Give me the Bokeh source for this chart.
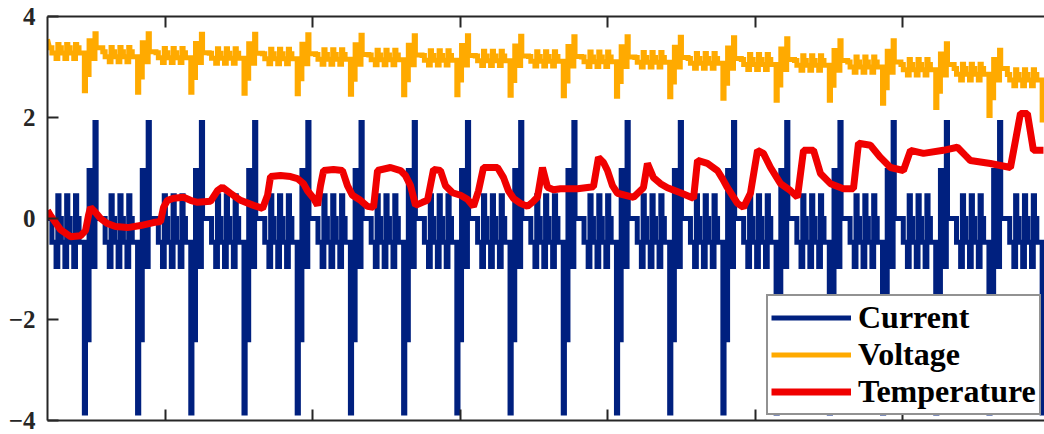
import numpy as np
from bokeh.plotting import figure
from bokeh.models import LinearAxis, FixedTicker, Legend, LegendItem, Range1d
from bokeh.embed import file_html
from bokeh.resources import INLINE

# ---- data ----
# one repeated drive cycle (step durations in s, current level in A)
step_dur = [16, 28, 12, 8, 16, 24, 12, 8, 16, 24, 12, 8, 16, 36, 8, 24, 8, 32, 8, 45]
step_cur = [0, -0.47, -0.95, 0.45, 0, -0.47, -0.95, 0.45, 0, -0.47, -0.95, 0.45,
            0, -0.47, -3.85, -2.4, 0.95, -0.95, 1.9, 0]
first_cycle_start = 214
n_cycles = 19
cur_peak_neg = -3.85
cur_peak_pos = 1.9

# per-cycle voltage: rest level, top of charge spike, bottom of discharge dip
v_rest = [3.38, 3.30, 3.28, 3.27, 3.26, 3.25, 3.24, 3.23, 3.22, 3.21,
          3.20, 3.19, 3.17, 3.15, 3.13, 3.10, 3.05, 2.97, 2.85]
v_top = [3.66, 3.66, 3.65, 3.65, 3.64, 3.63, 3.62, 3.62, 3.61, 3.60,
         3.60, 3.59, 3.58, 3.56, 3.52, 3.52, 3.46, 3.33, 3.25]
v_bottom = [2.53, 2.50, 2.50, 2.48, 2.47, 2.46, 2.45, 2.45, 2.44, 2.43,
            2.42, 2.41, 2.38, 2.34, 2.34, 2.28, 2.20, 2.04, 1.95]
v_initial = 3.55

# temperature trace
temp_t = [200, 220, 254, 288, 356, 424, 458, 478, 492, 526, 560, 607, 661, 743, 831, 919, 967,
          987, 1014, 1055, 1123, 1170, 1218, 1306, 1353, 1387, 1441, 1509, 1598, 1659, 1693,
          1713, 1781, 1849, 1896, 1937, 1964, 2005, 2032, 2052, 2073, 2140, 2201, 2235, 2269,
          2323, 2371, 2412, 2439, 2527, 2595, 2629, 2663, 2697, 2744, 2778, 2819, 2866, 2900,
          2948, 3002, 3049, 3090, 3124, 3158, 3253, 3294, 3327, 3361, 3409, 3456, 3497, 3524,
          3558, 3592, 3633, 3680, 3796, 3904, 3938, 3972, 3999, 4033, 4067, 4176, 4243, 4270,
          4311, 4359, 4406, 4494, 4583, 4610, 4677, 4745, 4779, 4813, 4881, 4922, 4969, 5017,
          5057, 5105, 5173, 5241, 5288, 5329, 5397, 5444, 5512, 5600, 5668, 5702, 5783, 5851,
          5919, 6007, 6055, 6143, 6278, 6373, 6427, 6461, 6597, 6733, 6767, 6801, 6848, 6889,
          6957]
temp_v = [0.16, 0.06, -0.08, -0.22, -0.36, -0.34, -0.24, 0.06, 0.22, 0.12, 0.0, -0.10, -0.16,
          -0.18, -0.14, -0.08, -0.06, 0.22, 0.36, 0.40, 0.42, 0.36, 0.32, 0.34, 0.55, 0.62, 0.50,
          0.36, 0.26, 0.20, 0.46, 0.83, 0.85, 0.83, 0.79, 0.69, 0.55, 0.40, 0.26, 0.65, 0.95,
          0.97, 0.95, 0.65, 0.46, 0.36, 0.24, 0.22, 0.95, 1.01, 0.95, 0.85, 0.65, 0.26, 0.32,
          0.36, 0.97, 0.95, 0.65, 0.51, 0.46, 0.38, 0.24, 0.55, 1.01, 1.01, 0.81, 0.55, 0.40,
          0.30, 0.24, 0.34, 0.42, 1.01, 0.62, 0.57, 0.59, 0.59, 0.63, 1.21, 1.11, 0.95, 0.65,
          0.50, 0.42, 0.61, 1.09, 0.81, 0.69, 0.61, 0.51, 0.40, 1.15, 1.09, 0.95, 0.79, 0.61,
          0.30, 0.22, 0.50, 1.35, 1.29, 1.01, 0.69, 0.55, 0.42, 1.35, 1.35, 0.89, 0.69, 0.59,
          0.59, 1.49, 1.45, 1.21, 1.01, 0.95, 1.35, 1.29, 1.35, 1.41, 1.25, 1.15, 1.09, 1.01,
          1.54, 2.08, 2.08, 1.35, 1.35]

y_ticks = [-4, -2, 0, 2, 4]
y_tick_labels = ["\u22124", "\u22122", "0", "2", "4"]
x_ticks = [1000, 2000, 3000, 4000, 5000, 6000]
labels = ["Current", "Voltage", "Temperature"]
colors = ["#00207F", "#FFAA00", "#F00000"]

# ---- build step series ----
cur_t, cur_y, vol_t, vol_y = [200], [0.0], [200], [v_initial]
t = first_cycle_start
for k in range(n_cycles):
    for d, c in zip(step_dur, step_cur):
        if c < 0:
            v = v_rest[k] + (v_rest[k] - v_bottom[k]) * c / (-cur_peak_neg)
        elif c > 0:
            v = v_rest[k] + (v_top[k] - v_rest[k]) * c / cur_peak_pos
        else:
            v = v_rest[k]
        cur_t += [t, t + d]
        cur_y += [c, c]
        vol_t += [t, t + d]
        vol_y += [v, v]
        t += d

FONT = "Liberation Serif"
AX = "#262626"

p = figure(width=1044, height=434, x_range=Range1d(200, 6964), y_range=Range1d(-4, 4),
           output_backend="svg", toolbar_location=None,
           min_border_left=47, min_border_right=0, min_border_top=16, min_border_bottom=14)
p.outline_line_color = None
p.grid.visible = False
p.background_fill_color = "white"

r1 = p.line(cur_t, cur_y, line_width=5, color=colors[0], line_join="miter")
r2 = p.line(vol_t, vol_y, line_width=5, color=colors[1], line_join="miter")
r3 = p.line(temp_t, temp_v, line_width=7, color=colors[2])

ya = p.yaxis[0]
ya.ticker = FixedTicker(ticks=y_ticks)
ya.major_label_overrides = {tk: lab for tk, lab in zip(y_ticks, y_tick_labels)}
ya.major_tick_in = 11
ya.major_tick_out = 0
ya.minor_tick_line_color = None
ya.axis_line_width = 2
ya.axis_line_color = AX
ya.major_tick_line_color = AX
ya.major_tick_line_width = 2
ya.major_label_text_font = FONT
ya.major_label_text_font_style = "bold"
ya.major_label_text_font_size = "25px"
ya.major_label_text_color = AX
ya.major_label_standoff = 12

xa = p.xaxis[0]
top = LinearAxis()
p.add_layout(top, "above")
for a in (xa, top):
    a.ticker = FixedTicker(ticks=x_ticks)
    a.major_tick_in = 11
    a.major_tick_out = 0
    a.minor_tick_line_color = None
    a.axis_line_width = 2
    a.axis_line_color = AX
    a.major_tick_line_color = AX
    a.major_tick_line_width = 2
    a.major_label_text_font_size = "1px"
    a.major_label_text_alpha = 0
    a.major_label_standoff = 0

legend = Legend(items=[LegendItem(label=labels[0], renderers=[r1]),
                       LegendItem(label=labels[1], renderers=[r2]),
                       LegendItem(label=labels[2], renderers=[r3])],
                location=(719, 5))
legend.label_text_font = FONT
legend.label_text_font_style = "bold"
legend.label_text_font_size = "32px"
legend.label_text_color = "black"
legend.glyph_width = 80
legend.glyph_height = 37
legend.label_height = 37
legend.label_standoff = 7
legend.spacing = 0
legend.padding = 3
legend.margin = 0
legend.border_line_color = AX
legend.border_line_width = 2
legend.background_fill_alpha = 1
p.add_layout(legend)

open("out.html", "w").write(file_html(p, INLINE))
